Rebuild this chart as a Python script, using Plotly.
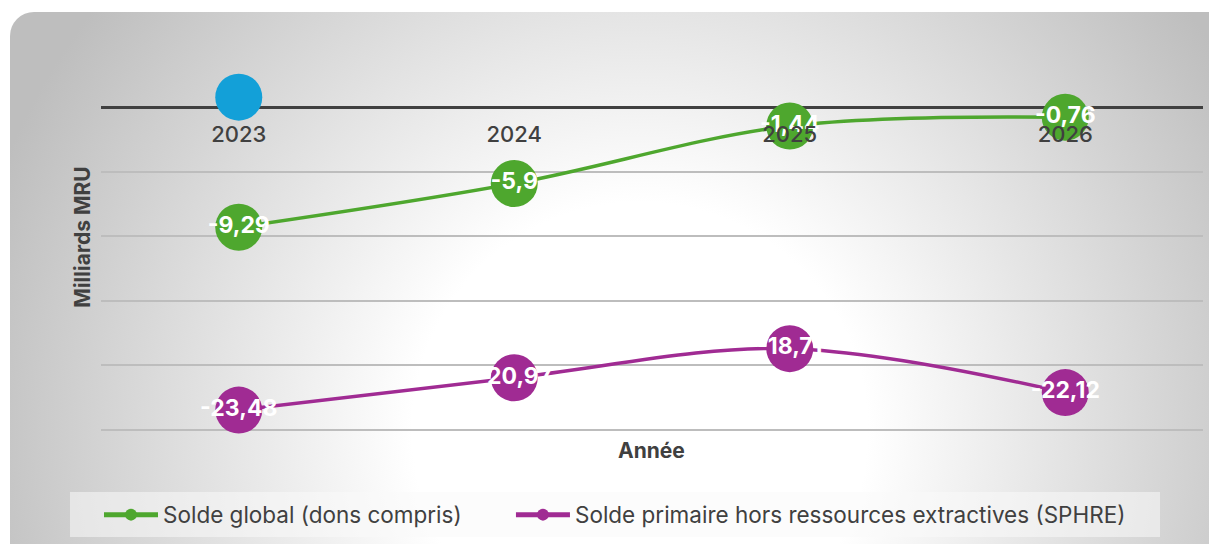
import plotly.graph_objects as go
import urllib.parse

years = ["2023", "2024", "2025", "2026"]
solde_global = [-9.29, -5.9, -1.44, -0.76]
sphre = [-23.48, -20.97, -18.71, -22.12]
marker_year = ["2023"]
marker_val = [0.8]

name_global = "Solde global (dons compris)"
name_sphre = "Solde primaire hors ressources extractives (SPHRE)"

W, H = 1209, 544
ML, MR, MT, MB = 101, 6, 43, 113
PW, PH = W - ML - MR, H - MT - MB
YMIN, YMAX = -25.1, 5

FONT = "Inter"
GREEN = "#4ea72e"
PURPLE = "#a02b93"
BLUE = "#13a0d8"
DARK = "#404040"

def lab(vals):
    return [str(v).replace(".", ",") for v in vals]

svg = f"""<svg xmlns='http://www.w3.org/2000/svg' width='{W}' height='{H}' viewBox='0 0 {W} {H}'>
<defs><radialGradient id='g' gradientUnits='userSpaceOnUse' cx='640' cy='430' r='690'>
<stop offset='0' stop-color='#ffffff'/><stop offset='0.33' stop-color='#ffffff'/>
<stop offset='1' stop-color='#bebebe'/></radialGradient></defs>
<rect x='10' y='12' width='1240' height='570' rx='24' ry='24' fill='url(#g)'/></svg>"""
svg_uri = "data:image/svg+xml;charset=utf-8," + urllib.parse.quote(svg)

label_font = dict(color="white", size=23, family=FONT, weight="bold")

fig = go.Figure()
fig.add_trace(go.Scatter(
    x=years, y=solde_global, name=name_global + "\u00a0" * 7, mode="lines+markers+text",
    line=dict(color=GREEN, width=3.5, shape="spline", smoothing=1),
    marker=dict(color=GREEN, size=47), cliponaxis=False,
    text=lab(solde_global), textposition="middle center", textfont=label_font,
))
fig.add_trace(go.Scatter(
    x=years, y=sphre, name=name_sphre, mode="lines+markers+text",
    line=dict(color=PURPLE, width=3.5, shape="spline", smoothing=1),
    marker=dict(color=PURPLE, size=47), cliponaxis=False,
    text=lab(sphre), textposition="middle center", textfont=label_font,
))
fig.add_trace(go.Scatter(
    x=marker_year, y=marker_val, mode="markers", showlegend=False,
    marker=dict(color=BLUE, size=47), hoverinfo="skip", cliponaxis=False,
))

zero_pos = (0 - YMIN) / (YMAX - YMIN)

fig.update_layout(
    width=W, height=H,
    margin=dict(l=ML, r=MR, t=MT, b=MB),
    paper_bgcolor="white", plot_bgcolor="rgba(0,0,0,0)",
    font=dict(family=FONT, color=DARK),
    showlegend=True,
    legend=dict(orientation="h", x=(615 - ML) / PW, xanchor="center",
                y=1 - (515 - MT) / PH, yanchor="middle",
                font=dict(size=22.5, color=DARK, family=FONT), bgcolor="rgba(0,0,0,0)",
                itemsizing="constant", itemwidth=54),
    xaxis=dict(type="category", categoryorder="array", categoryarray=years,
               range=[-0.5, 3.5], anchor="free", position=zero_pos,
               showgrid=False, showline=False, zeroline=False,
               ticks="", ticklabelstandoff=12,
               tickfont=dict(size=22, color=DARK, family=FONT, weight=500)),
    yaxis=dict(range=[YMIN, YMAX], dtick=5, showticklabels=False, ticks="",
               showgrid=True, gridcolor="#bdbdbd", gridwidth=1.5,
               zeroline=True, zerolinecolor=DARK, zerolinewidth=3,
               title=dict(text="<b>Milliards MRU</b>", standoff=3,
                          font=dict(size=21, color=DARK, family=FONT))),
    images=[dict(source=svg_uri, xref="paper", yref="paper",
                 x=-ML / PW, y=1 + MT / PH, sizex=W / PW, sizey=H / PH,
                 xanchor="left", yanchor="top", sizing="stretch", layer="below")],
    shapes=[dict(type="rect", xref="paper", yref="paper",
                 x0=(70 - ML) / PW, x1=(1160 - ML) / PW,
                 y0=1 - (537 - MT) / PH, y1=1 - (492 - MT) / PH,
                 fillcolor="rgba(250,250,250,0.55)", line=dict(width=0), layer="below")],
    annotations=[dict(text="<b>Année</b>", xref="paper", yref="paper",
                      x=(651 - ML) / PW, y=1 - (450 - MT) / PH, showarrow=False,
                      font=dict(size=21, color=DARK, family=FONT),
                      xanchor="center", yanchor="middle")],
)

fig.write_html("out.html", config={"displayModeBar": False},
               post_script="document.body.style.margin='0';document.body.style.overflow='hidden';")
